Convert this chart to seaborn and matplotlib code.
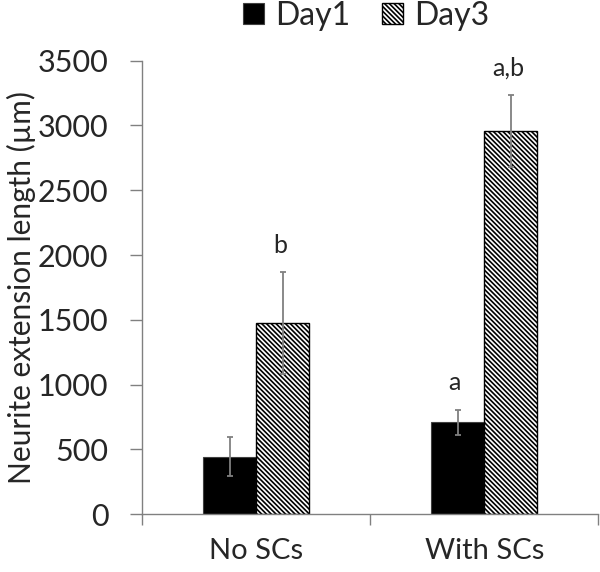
import pandas as pd
import matplotlib
matplotlib.use('Agg')
import matplotlib.pyplot as plt
import seaborn as sns

# data
groups = ['No SCs', 'With SCs']
days = ['Day1', 'Day3']
day1_mean = [445, 711]
day3_mean = [1476, 2957]
day1_err = [148, 97]
day3_err = [394, 278]
day1_sig = ['', 'a']
day3_sig = ['b', 'a,b']

df = pd.DataFrame({
    'group': groups * 2,
    'day': [days[0]] * 2 + [days[1]] * 2,
    'length': day1_mean + day3_mean,
})

sns.set_style('white')
plt.rcParams['font.family'] = ['Lato', 'DejaVu Sans']
plt.rcParams['hatch.linewidth'] = 1.2

fig = plt.figure(figsize=(6, 5.72), dpi=100)
ax = fig.add_axes([0.237, 0.101, 0.76, 0.793])

sns.barplot(data=df, x='group', y='length', hue='day', order=groups, hue_order=days,
            palette=['black', 'white'], width=0.467, errorbar=None, legend=False,
            saturation=1, ax=ax)

grey = '#808080'
cont1, cont3 = ax.containers[0], ax.containers[1]
for p in cont1:
    p.set_edgecolor('#404040')
    p.set_linewidth(0.8)
for p in cont3:
    p.set_hatch('\\' * 7)
    p.set_edgecolor('black')
    p.set_linewidth(1.0)

# error bars and significance letters
for cont, means, errs, sigs in [(cont1, day1_mean, day1_err, day1_sig),
                                (cont3, day3_mean, day3_err, day3_sig)]:
    xs = [p.get_x() + p.get_width() / 2 for p in cont]
    ax.errorbar(xs, means, yerr=errs, fmt='none', ecolor=grey, elinewidth=1.3,
                capsize=2.5, capthick=1.3, zorder=5)
    for x, m, e, s in zip(xs, means, errs, sigs):
        if s:
            ax.annotate(s, (x, m + e), xytext=(-2, 11), textcoords='offset points',
                        ha='center', va='bottom', fontsize=18)

ax.set_ylim(0, 3500)
ax.set_xlim(-0.5, 1.5)
ax.set_yticks(range(0, 3501, 500))
ax.set_xticks([0, 1])
ax.set_xticklabels(groups)
ax.set_xticks([-0.5, 0.5, 1.5], minor=True)
ax.tick_params(axis='x', which='major', length=0, pad=17, labelsize=21)
ax.tick_params(axis='x', which='minor', direction='out', length=8, width=1, color=grey)
ax.tick_params(axis='y', direction='out', length=8.4, width=1, color=grey, pad=16, labelsize=22)
ax.tick_params(left=True, bottom=True)
ax.xaxis.set_tick_params(which='minor', bottom=True)

ax.set_xlabel('')
ax.set_ylabel('Neurite extension length (\u00b5m)', fontsize=21.5, labelpad=1)
sns.despine(ax=ax)
for side in ['left', 'bottom']:
    ax.spines[side].set_color(grey)
    ax.spines[side].set_linewidth(1.0)

fig.legend([cont1, cont3], days, loc='center', bbox_to_anchor=(0.61, 0.972), ncol=2,
           frameon=False, fontsize=23, handlelength=0.65, handleheight=0.65,
           handletextpad=0.35, columnspacing=1.0, borderaxespad=0)

fig.savefig('out.png', dpi=100)
